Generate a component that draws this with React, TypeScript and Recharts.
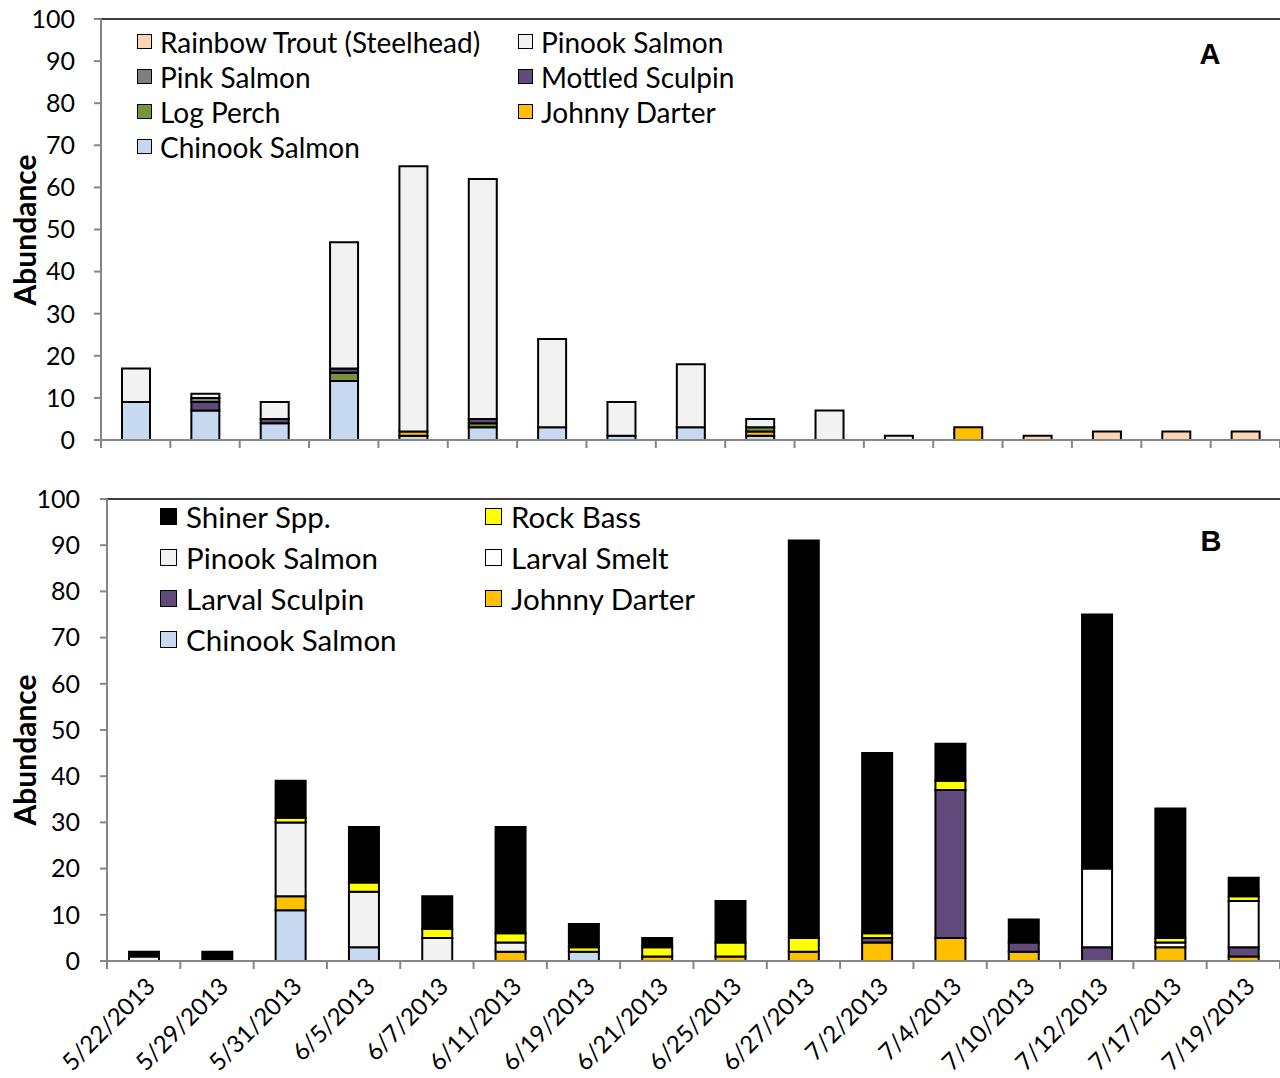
import React from 'react';
import { BarChart, Bar, XAxis, YAxis, ReferenceLine } from 'recharts';

const FONT = 'Lato, "Open Sans", sans-serif';

// ---------- Panel A ----------
const samplesA = ['1', '2', '3', '4', '5', '6', '7', '8', '9', '10', '11', '12', '13', '14', '15', '16', '17'];
const chinookA = [9, 7, 4, 14, 1, 3, 3, 1, 3, 1, 0, 0, 0, 0, 0, 0, 0];
const johnnyA = [0, 0, 0, 0, 1, 0, 0, 0, 0, 1, 0, 0, 3, 0, 0, 0, 0];
const logPerchA = [0, 0, 0, 2, 0, 1, 0, 0, 0, 1, 0, 0, 0, 0, 0, 0, 0];
const mottledA = [0, 2, 1, 1, 0, 1, 0, 0, 0, 0, 0, 0, 0, 0, 0, 0, 0];
const pinkA = [0, 1, 0, 0, 0, 0, 0, 0, 0, 0, 0, 0, 0, 0, 0, 0, 0];
const pinookA = [8, 1, 4, 30, 63, 57, 21, 8, 15, 2, 7, 1, 0, 0, 0, 0, 0];
const rainbowA = [0, 0, 0, 0, 0, 0, 0, 0, 0, 0, 0, 0, 0, 1, 2, 2, 2];

// ---------- Panel B ----------
const datesB = ['5/22/2013', '5/29/2013', '5/31/2013', '6/5/2013', '6/7/2013', '6/11/2013', '6/19/2013', '6/21/2013', '6/25/2013', '6/27/2013', '7/2/2013', '7/4/2013', '7/10/2013', '7/12/2013', '7/17/2013', '7/19/2013'];
const chinookB = [0, 0, 11, 3, 0, 0, 2, 0, 0, 0, 0, 0, 0, 0, 0, 0];
const johnnyB = [0, 0, 3, 0, 0, 2, 0, 1, 1, 2, 4, 5, 2, 0, 3, 1];
const sculpinB = [0, 0, 0, 0, 0, 0, 0, 0, 0, 0, 1, 32, 2, 3, 0, 2];
const smeltB = [0, 0, 0, 0, 0, 0, 0, 0, 0, 0, 0, 0, 0, 17, 1, 10];
const pinookB = [1, 0, 16, 12, 5, 2, 0, 0, 0, 0, 0, 0, 0, 0, 0, 0];
const rockB = [0, 0, 1, 2, 2, 2, 1, 2, 3, 3, 1, 2, 0, 0, 1, 1];
const shinerB = [1, 2, 8, 12, 7, 23, 5, 2, 9, 86, 39, 8, 5, 55, 28, 4];

const yTicks = [0, 10, 20, 30, 40, 50, 60, 70, 80, 90, 100];

// stack order bottom -> top
const seriesA = [
  { key: 'chinook', name: 'Chinook Salmon', fill: '#C6D9F1', values: chinookA },
  { key: 'johnny', name: 'Johnny Darter', fill: '#FFC000', values: johnnyA },
  { key: 'logperch', name: 'Log Perch', fill: '#77933C', values: logPerchA },
  { key: 'mottled', name: 'Mottled Sculpin', fill: '#604A7B', values: mottledA },
  { key: 'pink', name: 'Pink Salmon', fill: '#7F7F7F', values: pinkA },
  { key: 'pinook', name: 'Pinook Salmon', fill: '#F2F2F2', values: pinookA },
  { key: 'rainbow', name: 'Rainbow Trout (Steelhead)', fill: '#FCD5B5', values: rainbowA },
];
const legendOrderA = ['rainbow', 'pinook', 'pink', 'mottled', 'logperch', 'johnny', 'chinook'];

const seriesB = [
  { key: 'chinook', name: 'Chinook Salmon', fill: '#C6D9F1', values: chinookB },
  { key: 'johnny', name: 'Johnny Darter', fill: '#FFC000', values: johnnyB },
  { key: 'sculpin', name: 'Larval Sculpin', fill: '#604A7B', values: sculpinB },
  { key: 'smelt', name: 'Larval Smelt', fill: '#FFFFFF', values: smeltB },
  { key: 'pinook', name: 'Pinook Salmon', fill: '#F2F2F2', values: pinookB },
  { key: 'rock', name: 'Rock Bass', fill: '#FFFF00', values: rockB },
  { key: 'shiner', name: 'Shiner Spp.', fill: '#000000', values: shinerB },
];
const legendOrderB = ['shiner', 'rock', 'pinook', 'smelt', 'sculpin', 'johnny', 'chinook'];

const dataA = samplesA.map((s, i) => {
  const row: any = { cat: s };
  seriesA.forEach((se) => (row[se.key] = se.values[i]));
  return row;
});
const dataB = datesB.map((d, i) => {
  const row: any = { cat: d };
  seriesB.forEach((se) => (row[se.key] = se.values[i]));
  return row;
});

const AXIS = '#868686';

function makeTick(showLabel: boolean, count: number, plotWidth: number) {
  return (props: any) => {
    const { x, y, payload, index } = props;
    const off = payload && payload.offset ? payload.offset : plotWidth / count / 2;
    return (
      <g>
        <line x1={x - off} x2={x - off} y1={y} y2={y + 8} stroke={AXIS} strokeWidth={2} />
        {index === count - 1 && (
          <line x1={x + off} x2={x + off} y1={y} y2={y + 8} stroke={AXIS} strokeWidth={2} />
        )}
        {showLabel && (
          <text
            x={0}
            y={0}
            transform={`translate(${x + 7},${y + 21}) rotate(-45)`}
            textAnchor="end"
            dy="0.35em"
            fontFamily={FONT}
            fontSize={24}
            fill="#000"
          >
            {payload.value}
          </text>
        )}
      </g>
    );
  };
}

function LegendBox({ items, colWidth, rowHeight, fontSize, swatch, gap }: any) {
  return (
    <div style={{ display: 'grid', gridTemplateColumns: `${colWidth}px ${colWidth}px` }}>
      {items.map((it: any) => (
        <div
          key={it.key}
          style={{
            display: 'flex',
            alignItems: 'center',
            height: rowHeight,
            fontFamily: FONT,
            fontSize,
            color: '#000',
            whiteSpace: 'nowrap',
          }}
        >
          <span
            style={{
              display: 'inline-block',
              width: swatch,
              height: swatch,
              background: it.fill,
              border: '1.5px solid #000',
              boxSizing: 'border-box',
              marginRight: gap,
              flex: 'none',
            }}
          />
          {it.name}
        </div>
      ))}
    </div>
  );
}

function yLabel(cy: number) {
  return () => (
    <text
      x={0}
      y={0}
      transform={`translate(36,${cy}) rotate(-90)`}
      textAnchor="middle"
      fontFamily={FONT}
      fontWeight={700}
      fontSize={30}
      fill="#000"
    >
      Abundance
    </text>
  );
}

export default function App() {
  const itemsA = legendOrderA.map((k) => seriesA.find((s) => s.key === k));
  const itemsB = legendOrderB.map((k) => seriesB.find((s) => s.key === k));
  return (
    <div style={{ position: 'absolute', left: 0, top: 0, width: 1280, height: 1078, background: '#fff' }}>
      <div style={{ position: 'absolute', left: 0, top: 0 }}>
        <BarChart width={1280} height={470} data={dataA} margin={{ top: 19, right: 0, left: 0, bottom: 5 }} barSize={28}>
          <XAxis
            dataKey="cat"
            height={25}
            axisLine={{ stroke: AXIS, strokeWidth: 2 }}
            tickLine={false}
            tickSize={0}
            tickMargin={0}
            interval={0}
            tick={makeTick(false, samplesA.length, 1179)}
          />
          <YAxis
            width={101}
            domain={[0, 100]}
            ticks={yTicks}
            interval={0}
            allowDataOverflow
            axisLine={{ stroke: AXIS, strokeWidth: 2 }}
            tickLine={{ stroke: AXIS, strokeWidth: 2 }}
            tickSize={7}
            tickMargin={19}
            tick={{ fill: '#000', fontFamily: FONT, fontSize: 25 }}
            label={{ content: yLabel(230) }}
          />
          <ReferenceLine y={100} stroke="#404040" strokeWidth={2} />
          {seriesA.map((s) => (
            <Bar key={s.key} dataKey={s.key} name={s.name} stackId="a" fill={s.fill} stroke="#000" strokeWidth={2} isAnimationActive={false} />
          ))}
        </BarChart>
      </div>
      <div style={{ position: 'absolute', left: 137, top: 24 }}>
        <LegendBox items={itemsA} colWidth={381} rowHeight={35} fontSize={28} swatch={15} gap={8} />
      </div>
      <div style={{ position: 'absolute', left: 1210, top: 54, transform: 'translate(-50%,-50%)', fontFamily: '"Liberation Sans", Arial, sans-serif', fontWeight: 700, fontSize: 29 }}>
        A
      </div>

      <div style={{ position: 'absolute', left: 0, top: 480 }}>
        <BarChart width={1280} height={598} data={dataB} margin={{ top: 19, right: 0, left: 0, bottom: 0 }} barSize={30}>
          <XAxis
            dataKey="cat"
            height={117}
            axisLine={{ stroke: AXIS, strokeWidth: 2 }}
            tickLine={false}
            tickSize={0}
            tickMargin={0}
            interval={0}
            tick={makeTick(true, datesB.length, 1173)}
          />
          <YAxis
            width={107}
            domain={[0, 100]}
            ticks={yTicks}
            interval={0}
            allowDataOverflow
            axisLine={{ stroke: AXIS, strokeWidth: 2 }}
            tickLine={{ stroke: AXIS, strokeWidth: 2 }}
            tickSize={7}
            tickMargin={20}
            tick={{ fill: '#000', fontFamily: FONT, fontSize: 25 }}
            label={{ content: yLabel(270) }}
          />
          <ReferenceLine y={100} stroke="#404040" strokeWidth={2} />
          {seriesB.map((s) => (
            <Bar key={s.key} dataKey={s.key} name={s.name} stackId="b" fill={s.fill} stroke="#000" strokeWidth={2} isAnimationActive={false} />
          ))}
        </BarChart>
      </div>
      <div style={{ position: 'absolute', left: 160, top: 496 }}>
        <LegendBox items={itemsB} colWidth={325} rowHeight={41} fontSize={29.5} swatch={17} gap={9} />
      </div>
      <div style={{ position: 'absolute', left: 1211, top: 541, transform: 'translate(-50%,-50%)', fontFamily: '"Liberation Sans", Arial, sans-serif', fontWeight: 700, fontSize: 29 }}>
        B
      </div>
    </div>
  );
}
